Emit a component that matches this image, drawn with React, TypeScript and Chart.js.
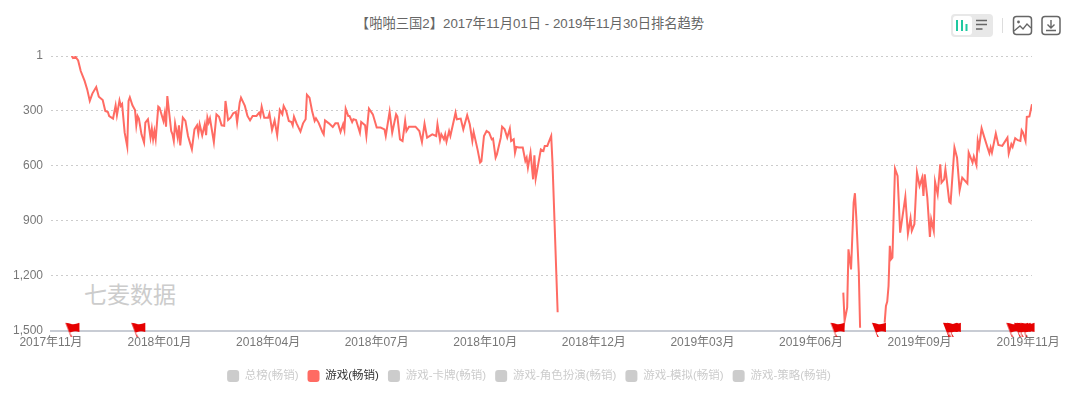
import React, { useEffect, useRef } from "react";
import { Chart, registerables } from "chart.js";

Chart.register(...registerables);

const FONT = "'Liberation Sans', 'Noto Sans CJK SC', sans-serif";
const chartTitle = "【啪啪三国2】2017年11月01日 - 2019年11月30日排名趋势";
const watermark = "七麦数据";
const lastDay = 759;
const tickDays = [0, 84, 168, 252, 336, 420, 504, 588, 672, 756];
const tickLabels = ["2017年11月", "2018年01月", "2018年04月", "2018年07月", "2018年10月", "2018年12月", "2019年03月", "2019年06月", "2019年09月", "2019年11月"];
const rankTicks = [1, 300, 600, 900, 1200, 1500];
const legendNames = ["总榜(畅销)", "游戏(畅销)", "游戏-卡牌(畅销)", "游戏-角色扮演(畅销)", "游戏-模拟(畅销)", "游戏-策略(畅销)"];

const days1 = [16,17,19,21,23,26,28,30,32,35,37,40,42,44,45,48,50,51,53,54,55,57,59,60,61,63,65,66,67,68,70,72,73,75,77,78,79,80,81,83,84,87,88,89,90,93,94,95,96,98,99,100,102,104,106,109,111,113,114,115,117,119,120,121,122,123,126,128,130,132,134,135,137,139,141,143,144,146,147,150,152,154,156,159,161,162,163,165,168,169,171,173,175,177,179,180,182,184,186,187,188,190,193,195,197,198,200,202,204,205,207,210,211,212,215,218,220,222,224,226,227,228,230,231,233,234,236,239,240,243,244,246,249,252,255,258,259,262,264,267,268,270,272,274,275,277,282,285,287,289,291,295,298,299,301,302,304,305,306,308,309,313,314,317,319,322,324,326,327,330,332,333,335,337,339,341,342,344,345,348,349,351,353,355,356,358,359,360,362,365,367,368,369,371,373,374,375,379,381,382,384,387,388,392];
const ranks1 = [1,12,6,25,83,137,183,246,206,170,223,241,301,306,328,342,270,324,243,273,263,419,495,246,226,270,295,379,328,342,428,473,364,346,446,397,455,410,455,277,283,355,313,386,219,410,428,464,368,446,379,488,337,355,437,510,401,379,424,373,433,373,433,337,364,341,470,319,332,379,382,246,350,337,313,306,364,255,228,273,328,352,328,328,310,328,277,337,337,315,404,352,433,295,319,273,301,355,361,379,332,368,413,368,346,212,228,301,355,341,364,415,428,352,368,388,368,368,415,373,404,288,328,328,361,346,350,419,361,379,437,288,319,391,391,401,437,304,419,319,331,455,464,355,410,386,386,410,470,370,446,428,437,373,460,428,455,428,468,410,437,310,346,342,401,324,373,464,415,510,582,575,437,410,419,455,451,555,537,446,386,401,446,397,464,455,528,497,500,500,573,555,610,528,673,542,669,510,519,491,491,437,582,1398];

const days2 = [613,614,616,617,619,621,622,623,625,626];
const ranks2 = [1291,1445,1373,1055,1164,800,749,873,1182,1482];

const days3 = [645,646,647,648,649,650,651,652,653,655,657,661,663,665,666,668,670,672,674,675,676,678,680,681,683,684,686,688,689,691,692,693,695,696,699,701,703,705,709,710,713,714,716,717,718,720,722,725,726,727,728,731,733,736,740,741,743,744,746,748,750,751,752,754,755,757,759];
const ranks3 = [1454,1363,1340,1255,1036,1109,1100,855,615,655,964,769,969,885,954,918,636,709,664,764,646,773,987,891,954,686,755,591,691,673,618,673,795,802,500,555,733,664,696,527,582,549,595,464,500,395,442,509,531,500,527,424,486,491,446,533,482,497,449,460,464,406,418,464,333,330,264];

const flagDays = [15, 66, 607, 639, 694, 695, 697, 743, 749, 751, 754];

function toPoints(days: number[], ranks: number[]) {
  return days.map((x, i) => ({ x, y: ranks[i] as number | null }));
}

function flagImage() {
  const c = document.createElement("canvas");
  c.width = 20;
  c.height = 20;
  const g = c.getContext("2d")!;
  g.fillStyle = "#e60000";
  g.beginPath();
  g.moveTo(5, 1.8);
  g.quadraticCurveTo(8.5, 2.2, 11.7, 3.2);
  g.quadraticCurveTo(15, 3.6, 19, 1.8);
  g.lineTo(19, 11);
  g.quadraticCurveTo(15, 9.8, 13, 10.6);
  g.quadraticCurveTo(10.5, 11.6, 9.2, 11.4);
  g.lineTo(11.9, 16);
  g.lineTo(10.5, 16);
  g.closePath();
  g.fill();
  return c;
}

export default function App() {
  const ref = useRef<HTMLCanvasElement>(null);
  useEffect(() => {
    const chart = new Chart(ref.current!, {
      type: "line",
      data: {
        datasets: [
          {
            label: legendNames[1],
            data: [
              ...toPoints(days1, ranks1),
              { x: days1[days1.length - 1] + 1, y: null },
              ...toPoints(days2, ranks2),
              { x: days2[days2.length - 1] + 1, y: null },
              ...toPoints(days3, ranks3),
            ],
            borderColor: "#ff6b63",
            borderWidth: 2,
            pointRadius: 0,
            tension: 0,
            spanGaps: false,
          },
          {
            type: "scatter",
            label: "flags",
            data: flagDays.map((x) => ({ x, y: 1500 })),
            pointStyle: flagImage() as any,
            pointRadius: 10,
            clip: false as any,
            order: -1,
          },
        ] as any,
      },
      options: {
        animation: false,
        responsive: false,
        parsing: false as any,
        layout: { padding: { left: 0, right: 22, top: 56, bottom: 18 } },
        plugins: {
          title: { display: false },
          tooltip: { enabled: false },
          legend: {
            position: "bottom",
            onClick: () => {},
            labels: {
              boxWidth: 12,
              boxHeight: 12,
              padding: 9,
              useBorderRadius: true,
              borderRadius: 3,
              font: { family: FONT, size: 11.5 },
              generateLabels: () =>
                legendNames.map((text, i) => ({
                  text,
                  fillStyle: i === 1 ? "#ff6b63" : "#cccccc",
                  strokeStyle: "transparent",
                  lineWidth: 0,
                  fontColor: i === 1 ? "#333333" : "#cccccc",
                  hidden: false,
                  borderRadius: 3,
                  datasetIndex: 0,
                })),
            },
          },
        },
        scales: {
          x: {
            type: "linear",
            min: 0,
            max: lastDay,
            afterFit: (s: any) => { s.height = 30; },
            afterBuildTicks: (s: any) => { s.ticks = tickDays.map((value) => ({ value })); },
            grid: { display: false, drawTicks: false },
            border: { display: true, color: "#c8ccd4", width: 2 },
            ticks: {
              autoSkip: false,
              maxRotation: 0,
              padding: 4,
              color: "#777777",
              font: { family: FONT, size: 12 },
              callback: (v: any) => tickLabels[tickDays.indexOf(Number(v))] ?? "",
            },
          },
          y: {
            type: "linear",
            reverse: true,
            min: 1,
            max: 1500,
            afterFit: (s: any) => { s.width = 51; },
            afterBuildTicks: (s: any) => { s.ticks = rankTicks.map((value) => ({ value })); },
            grid: { color: "#cccccc", lineWidth: 1, drawTicks: false },
            border: { display: false, dash: [2, 3] },
            ticks: {
              padding: 8,
              color: "#777777",
              font: { family: FONT, size: 12 },
              callback: (v: any) => Number(v).toLocaleString("en-US"),
            },
          },
          rightGutter: {
            type: "linear",
            position: "right",
            afterFit: (s: any) => { s.width = 26; },
            grid: { display: false, drawTicks: false },
            border: { display: false },
            ticks: { display: false },
          },
        },
      } as any,
    });
    return () => chart.destroy();
  }, []);

  return (
    <div style={{ position: "absolute", left: 0, top: 0, width: 1080, height: 410, overflow: "hidden", background: "#fff" }}>
      <div style={{ position: "absolute", left: 230, width: 600, top: 15, textAlign: "center", font: `13.3px ${FONT}`, lineHeight: "17px", color: "#666" }}>{chartTitle}</div>
      <div style={{ position: "absolute", left: 84, top: 280, font: `23px ${FONT}`, lineHeight: "30px", color: "#ccc" }}>{watermark}</div>
      <canvas ref={ref} width={1080} height={410} style={{ position: "absolute", left: 0, top: 0, display: "block" }} />
      <svg width={1080} height={50} style={{ position: "absolute", left: 0, top: 0 }}>
        <rect x={951} y={14} width={42} height={23} rx={4} fill="#e8e8e8" />
        <rect x={953} y={16} width={19} height={19} rx={3} fill="#fff" />
        <path d="M957 20V31M962 20V31M966.5 24V31" stroke="#1fc8a0" strokeWidth={2} />
        <path d="M976 20.5H987M976 24.5H987M976 29H982.5" stroke="#666" strokeWidth={1.6} />
        <path d="M1002.5 18V33" stroke="#ddd" strokeWidth={1} />
        <rect x={1013.5} y={16.5} width={18} height={18} rx={3} fill="none" stroke="#666" strokeWidth={1.5} />
        <circle cx={1018.5} cy={22} r={1.4} fill="#666" />
        <path d="M1014 31L1020 26L1023 29L1027 24L1031 28" fill="none" stroke="#666" strokeWidth={1.3} />
        <rect x={1042} y={16.5} width={18} height={18} rx={3} fill="none" stroke="#666" strokeWidth={1.5} />
        <path d="M1051 20V27.5M1047.5 24.5L1051 28L1054.5 24.5M1046 30.5H1056" fill="none" stroke="#666" strokeWidth={1.4} />
      </svg>
    </div>
  );
}
